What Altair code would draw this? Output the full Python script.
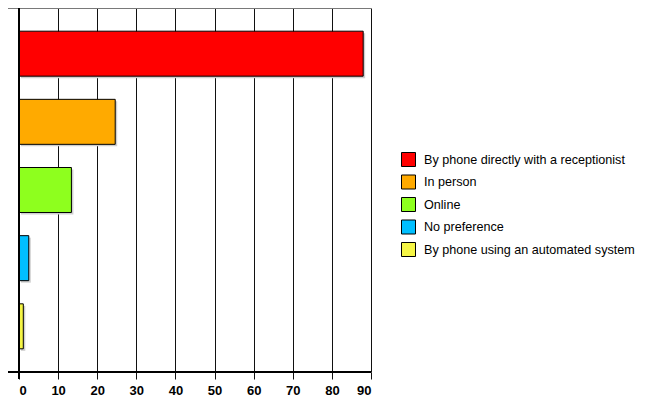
import altair as alt
import pandas as pd

categories = [
    "By phone directly with a receptionist",
    "In person",
    "Online",
    "No preference",
    "By phone using an automated system",
]
values = [88, 24.6, 13.4, 2.5, 1.1]
colors = ["#FF0000", "#FFAA00", "#8EFF1E", "#00BFFF", "#F5F545"]
x_ticks = [0, 10, 20, 30, 40, 50, 60, 70, 80, 90]

df = pd.DataFrame({"cat": categories, "val": values})

W, H = 352, 364
FONT = "Liberation Sans"

xscale = alt.Scale(domain=[0, 90], nice=False, zero=True)
yscale = alt.Scale(paddingInner=0.34, paddingOuter=0.34)

xaxis = alt.Axis(
    values=x_ticks,
    grid=True,
    gridColor="#111111",
    gridWidth=1,
    gridOpacity=1,
    ticks=True,
    tickSize=7,
    tickColor="#111111",
    tickWidth=1,
    domain=False,
    labelFont=FONT,
    labelFontSize=13,
    labelFontWeight="bold",
    labelColor="black",
    labelPadding=5,
)

base = alt.Chart(df)

shadow = base.mark_bar(color="#cfcfcf", xOffset=2, yOffset=2).encode(
    x=alt.X("val:Q", scale=xscale, title=None, axis=xaxis),
    y=alt.Y("cat:N", sort=categories, scale=yscale, axis=None),
)

bars = base.mark_bar(stroke="black", strokeWidth=1, opacity=1).encode(
    x=alt.X("val:Q", scale=xscale, title=None, axis=xaxis),
    y=alt.Y("cat:N", sort=categories, scale=yscale, axis=None),
    color=alt.Color(
        "cat:N",
        sort=categories,
        scale=alt.Scale(domain=categories, range=colors),
        legend=alt.Legend(
            orient="none",
            legendX=382,
            legendY=144,
            title=None,
            symbolType="square",
            symbolSize=196,
            symbolStrokeColor="black",
            symbolStrokeWidth=1,
            symbolOpacity=1,
            labelFont=FONT,
            labelFontSize=12.6,
            labelColor="black",
            labelOffset=8,
            labelLimit=0,
            rowPadding=3.5,
        ),
    ),
)

top_line = base.mark_rule(color="#777777", strokeWidth=1).encode(
    x=alt.value(-14), x2=alt.value(W), y=alt.value(0)
)
bottom_line = base.mark_rule(color="black", strokeWidth=1.5).encode(
    x=alt.value(-14), x2=alt.value(W), y=alt.value(H)
)
left_line = base.mark_rule(color="black", strokeWidth=2).encode(
    x=alt.value(0), y=alt.value(0), y2=alt.value(H + 7)
)

chart = (
    alt.layer(shadow, bars, top_line, bottom_line, left_line)
    .properties(
        width=W,
        height=H,
        autosize=alt.AutoSizeParams(type="none"),
        padding={"left": 11, "top": 0, "right": 269, "bottom": 28},
    )
    .configure_view(stroke=None)
    .configure(background="white")
)

chart.save("out.html", embed_options={"renderer": "svg", "actions": False})
